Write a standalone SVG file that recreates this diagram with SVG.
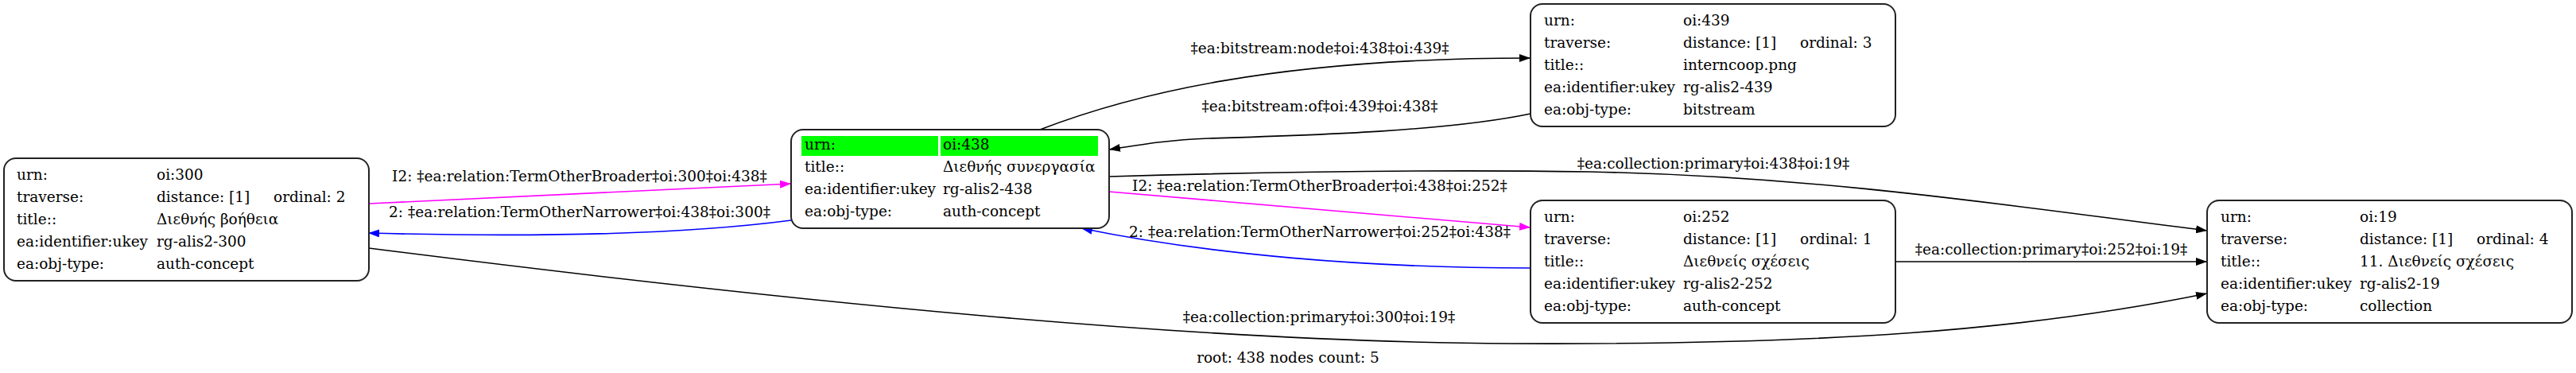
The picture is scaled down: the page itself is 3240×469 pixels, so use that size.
<svg xmlns="http://www.w3.org/2000/svg" width="3240" height="469" viewBox="0 0 3240 469">
<defs>
<style>
text{font-family:"DejaVu Serif","Liberation Serif",serif;font-size:18.5px;fill:#000}
.box{fill:#fff;stroke:#222;stroke-width:2}
.e{fill:none;stroke-width:1.6}
.k{stroke:#000}
.m{stroke:#ff00ff}
.b{stroke:#0000ff}
.lab{text-anchor:middle}
</style>
<marker id="ak" markerUnits="userSpaceOnUse" viewBox="0 0 14 10" refX="14" refY="5" markerWidth="14" markerHeight="10" orient="auto"><path d="M0,0L14,5L0,10z" fill="#000"/></marker>
<marker id="am" markerUnits="userSpaceOnUse" viewBox="0 0 14 10" refX="14" refY="5" markerWidth="14" markerHeight="10" orient="auto"><path d="M0,0L14,5L0,10z" fill="#ff00ff"/></marker>
<marker id="ab" markerUnits="userSpaceOnUse" viewBox="0 0 14 10" refX="14" refY="5" markerWidth="14" markerHeight="10" orient="auto"><path d="M0,0L14,5L0,10z" fill="#0000ff"/></marker>
</defs>
<rect width="3240" height="469" fill="#fff"/>
<g id="connectors">
<path class="e m" d="M464,256 L995,231" marker-end="url(#am)"/>
<text class="lab" x="729" y="228">I2: ‡ea:relation:TermOtherBroader‡oi:300‡oi:438‡</text>
<path class="e b" d="M995,277 C850,296 650,298 463,293" marker-end="url(#ab)"/>
<text class="lab" x="729" y="273">2: ‡ea:relation:TermOtherNarrower‡oi:438‡oi:300‡</text>
<path class="e k" d="M464,312 C1000,380 1500,430 1900,432 C2300,434 2550,415 2776,369" marker-end="url(#ak)"/>
<text class="lab" x="1659" y="405">‡ea:collection:primary‡oi:300‡oi:19‡</text>
<path class="e k" d="M1308,163 C1420,120 1600,73 1925,73" marker-end="url(#ak)"/>
<text class="lab" x="1660" y="67">‡ea:bitstream:node‡oi:438‡oi:439‡</text>
<path class="e k" d="M1925,143 C1820,165 1650,170 1520,174 C1470,176 1440,181 1395,188" marker-end="url(#ak)"/>
<text class="lab" x="1660" y="140">‡ea:bitstream:of‡oi:439‡oi:438‡</text>
<path class="e k" d="M1395,222 C1600,216 1800,213 2000,216 C2300,222 2550,262 2776,290" marker-end="url(#ak)"/>
<text class="lab" x="2155" y="212">‡ea:collection:primary‡oi:438‡oi:19‡</text>
<path class="e m" d="M1395,241 L1925,286" marker-end="url(#am)"/>
<text class="lab" x="1660" y="240">I2: ‡ea:relation:TermOtherBroader‡oi:438‡oi:252‡</text>
<path class="e b" d="M1925,337 C1720,337 1520,320 1360,287" marker-end="url(#ab)"/>
<text class="lab" x="1660" y="298">2: ‡ea:relation:TermOtherNarrower‡oi:252‡oi:438‡</text>
<path class="e k" d="M2384,329 L2776,329" marker-end="url(#ak)"/>
<text class="lab" x="2580" y="320">‡ea:collection:primary‡oi:252‡oi:19‡</text>
</g>
<g id="node300">
<rect class="box" x="5" y="199" width="459" height="154" rx="15"/>
<text x="21" y="226">urn:</text><text x="197" y="226">oi:300</text>
<text x="21" y="254">traverse:</text><text x="197" y="254">distance: [1]</text><text x="344" y="254">ordinal: 2</text>
<text x="21" y="282">title::</text><text x="197" y="282">Διεθνής βοήθεια</text>
<text x="21" y="310">ea:identifier:ukey</text><text x="197" y="310">rg-alis2-300</text>
<text x="21" y="338">ea:obj-type:</text><text x="197" y="338">auth-concept</text>
</g>
<g id="node438">
<rect class="box" x="995" y="163" width="400" height="124" rx="15"/>
<rect x="1008" y="171" width="172" height="25" fill="#00ff00"/>
<rect x="1183" y="171" width="198" height="25" fill="#00ff00"/>
<text x="1012" y="188">urn:</text><text x="1186" y="188">oi:438</text>
<text x="1012" y="216">title::</text><text x="1186" y="216">Διεθνής συνεργασία</text>
<text x="1012" y="244">ea:identifier:ukey</text><text x="1186" y="244">rg-alis2-438</text>
<text x="1012" y="272">ea:obj-type:</text><text x="1186" y="272">auth-concept</text>
</g>
<g id="node439">
<rect class="box" x="1925" y="5" width="459" height="154" rx="15"/>
<text x="1942" y="32">urn:</text><text x="2117" y="32">oi:439</text>
<text x="1942" y="60">traverse:</text><text x="2117" y="60">distance: [1]</text><text x="2264" y="60">ordinal: 3</text>
<text x="1942" y="88">title::</text><text x="2117" y="88">interncoop.png</text>
<text x="1942" y="116">ea:identifier:ukey</text><text x="2117" y="116">rg-alis2-439</text>
<text x="1942" y="144">ea:obj-type:</text><text x="2117" y="144">bitstream</text>
</g>
<g id="node252">
<rect class="box" x="1925" y="252" width="459" height="154" rx="15"/>
<text x="1942" y="279">urn:</text><text x="2117" y="279">oi:252</text>
<text x="1942" y="307">traverse:</text><text x="2117" y="307">distance: [1]</text><text x="2264" y="307">ordinal: 1</text>
<text x="1942" y="335">title::</text><text x="2117" y="335">Διεθνείς σχέσεις</text>
<text x="1942" y="363">ea:identifier:ukey</text><text x="2117" y="363">rg-alis2-252</text>
<text x="1942" y="391">ea:obj-type:</text><text x="2117" y="391">auth-concept</text>
</g>
<g id="node19">
<rect class="box" x="2776" y="252" width="459" height="154" rx="15"/>
<text x="2793" y="279">urn:</text><text x="2968" y="279">oi:19</text>
<text x="2793" y="307">traverse:</text><text x="2968" y="307">distance: [1]</text><text x="3115" y="307">ordinal: 4</text>
<text x="2793" y="335">title::</text><text x="2968" y="335">11. Διεθνείς σχέσεις</text>
<text x="2793" y="363">ea:identifier:ukey</text><text x="2968" y="363">rg-alis2-19</text>
<text x="2793" y="391">ea:obj-type:</text><text x="2968" y="391">collection</text>
</g>
<g id="graph-label">
<text class="lab" x="1620" y="456">root: 438 nodes count: 5</text>
</g>
</svg>
